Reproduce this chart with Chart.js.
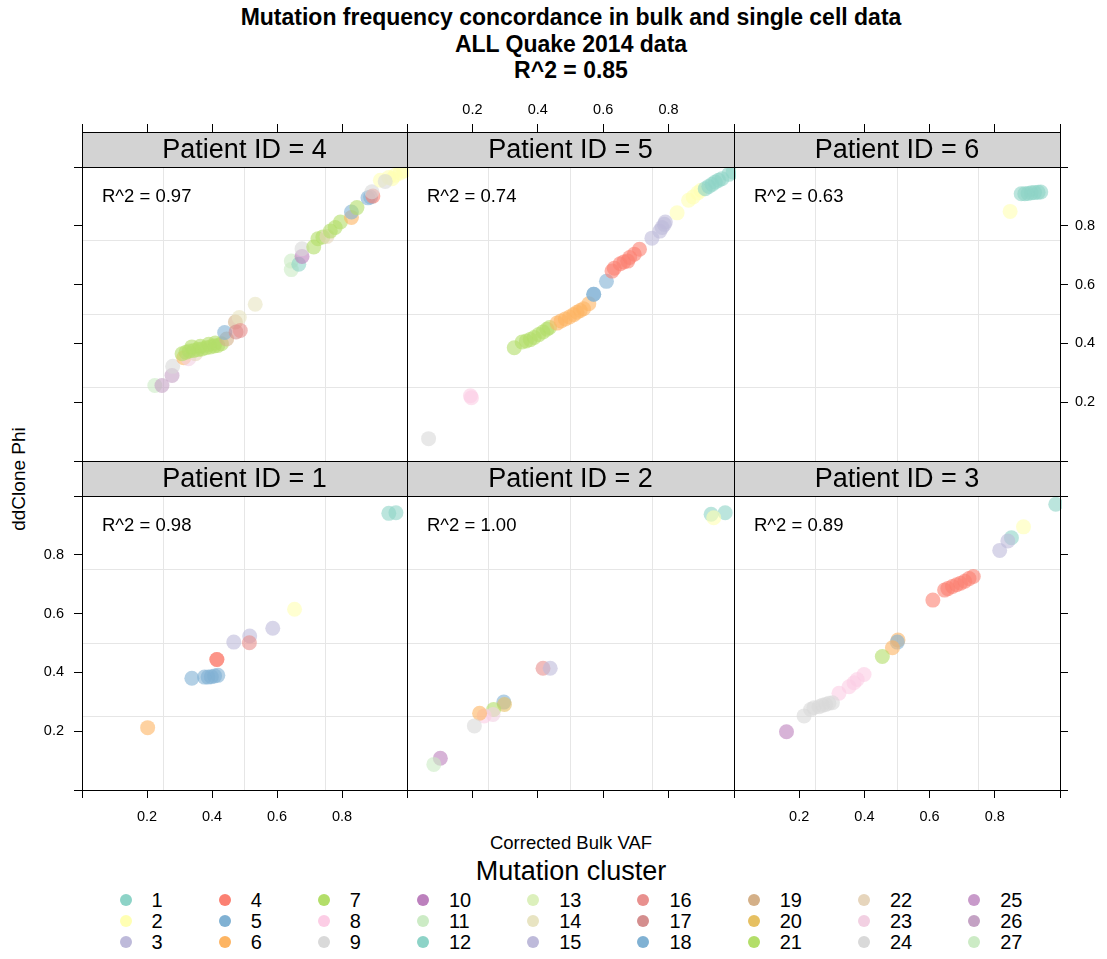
<!DOCTYPE html>
<html>
<head>
<meta charset="utf-8">
<script src="https://cdn.jsdelivr.net/npm/chart.js@4"></script>
<style>
  body { margin: 0; width: 1107px; height: 959px; position: relative; background: #fff; overflow: hidden;
         font-family: "Liberation Sans", Arial, Helvetica, sans-serif; color: #000; }
  canvas { position: absolute; }
  .txt { position: absolute; white-space: nowrap; }
  #title { left: 82px; width: 978px; top: 4px; text-align: center; font-weight: bold; font-size: 23px; line-height: 26.5px; }
  #xlab { left: 82px; width: 978px; top: 832px; text-align: center; font-size: 18.5px; line-height: 22px; }
  #ylab { left: 19px; top: 479px; font-size: 19px; line-height: 22px; transform: translate(-50%, -50%) rotate(-90deg); }
  #legTitle { left: 82px; width: 978px; top: 856px; text-align: center; font-size: 27px; line-height: 31px; }
  #legend { position: absolute; left: 82px; width: 978px; top: 890px; display: flex; justify-content: center; gap: 56px; }
  .legCol { display: flex; flex-direction: column; }
  .legItem { display: flex; align-items: center; height: 20.8px; font-size: 20px; }
  .dot { width: 12px; height: 12px; border-radius: 50%; margin-right: 20px; }
</style>
</head>
<body>
<div id="title" class="txt">Mutation frequency concordance in bulk and single cell data<br>ALL Quake 2014 data<br>R^2 = 0.85</div>
<div id="xlab" class="txt">Corrected Bulk VAF</div>
<div id="ylab" class="txt">ddClone Phi</div>
<div id="legTitle" class="txt">Mutation cluster</div>
<div id="legend"></div>

<script>
const clusterColors = [
  '#8DD3C7', '#FFFFB3', '#BEBADA', '#FB8072', '#80B1D3', '#FDB462', '#B3DE69', '#FCCDE5', '#D9D9D9',
  '#BC80BD', '#CCEBC5', '#8DD3C7', '#DCF0BC', '#E8E4C2', '#BEBADA', '#E8908E', '#D48E8E', '#80B1D3',
  '#D4B088', '#E6C062', '#B3DE69', '#E6D5BC', '#F2D0E2', '#D9D9D9', '#C89ACA', '#C4A2C4', '#CCEBC5'
]
const patientIds = [4, 5, 6, 1, 2, 3]
const rSquared = ['0.97', '0.74', '0.63', '0.98', '1.00', '0.89']
const axisTicks = [0, 0.2, 0.4, 0.6, 0.8, 1]
const gridLines = [0.25, 0.5, 0.75]

// patient 4
const p4Bulk = [0.224, 0.246, 0.277, 0.279, 0.313, 0.328, 0.349, 0.308, 0.320, 0.330, 0.344, 0.357, 0.369, 0.382,
  0.395, 0.407, 0.418, 0.429, 0.338, 0.364, 0.390, 0.410, 0.445, 0.439, 0.472, 0.484, 0.474, 0.487, 0.533, 0.644,
  0.644, 0.667, 0.677, 0.677, 0.713, 0.726, 0.741, 0.754, 0.764, 0.779, 0.795, 0.829, 0.829, 0.846, 0.880, 0.888,
  0.895, 0.892, 0.918, 0.944, 0.954, 0.964, 0.979, 0.990, 0.933]
const p4Phi = [0.257, 0.257, 0.291, 0.322, 0.351, 0.348, 0.365, 0.365, 0.370, 0.374, 0.376, 0.379, 0.381, 0.385,
  0.388, 0.391, 0.393, 0.399, 0.388, 0.390, 0.397, 0.401, 0.415, 0.437, 0.473, 0.488, 0.439, 0.444, 0.533, 0.651,
  0.680, 0.669, 0.696, 0.722, 0.728, 0.756, 0.762, 0.764, 0.782, 0.794, 0.813, 0.828, 0.847, 0.862, 0.895, 0.898,
  0.901, 0.916, 0.955, 0.964, 0.960, 0.972, 0.980, 0.986, 0.951]
const p4Cluster = [11, 26, 26, 9, 6, 23, 22, 7, 7, 7, 7, 7, 21, 7, 21, 7, 7, 7, 7, 21, 7, 7, 19, 5, 19, 14, 17, 16,
  14, 11, 27, 12, 10, 9, 7, 7, 21, 22, 7, 7, 7, 6, 5, 7, 5, 18, 4, 9, 2, 2, 2, 2, 2, 2, 9]

// patient 5
const p5Bulk = [0.066, 0.194, 0.197, 0.328, 0.352, 0.365, 0.377, 0.389, 0.403, 0.416, 0.428, 0.436, 0.459, 0.471,
  0.484, 0.497, 0.510, 0.520, 0.530, 0.540, 0.556, 0.571, 0.571, 0.610, 0.627, 0.634, 0.652, 0.663, 0.675, 0.681,
  0.695, 0.711, 0.749, 0.773, 0.780, 0.787, 0.790, 0.826, 0.861, 0.875, 0.889, 0.899, 0.912, 0.923, 0.933, 0.943,
  0.953, 0.963, 0.984, 0.997]
const p5Phi = [0.076, 0.222, 0.215, 0.385, 0.405, 0.408, 0.413, 0.420, 0.430, 0.439, 0.448, 0.454, 0.469, 0.476,
  0.483, 0.490, 0.498, 0.506, 0.512, 0.518, 0.535, 0.567, 0.567, 0.611, 0.646, 0.656, 0.671, 0.677, 0.680, 0.692,
  0.703, 0.720, 0.758, 0.782, 0.794, 0.805, 0.813, 0.844, 0.887, 0.898, 0.912, 0.921, 0.926, 0.934, 0.941, 0.949,
  0.955, 0.960, 0.975, 0.983]
const p5Cluster = [9, 8, 8, 7, 7, 7, 7, 7, 7, 7, 7, 7, 6, 6, 6, 6, 6, 6, 6, 6, 6, 5, 5, 18, 4, 4, 4, 4, 4, 4, 4, 4,
  3, 3, 3, 3, 3, 2, 2, 2, 2, 2, 1, 1, 1, 1, 1, 1, 1, 1]

// patient 6
const p6Bulk = [0.847, 0.881, 0.892, 0.902, 0.912, 0.922, 0.933, 0.941]
const p6Phi = [0.849, 0.909, 0.909, 0.910, 0.912, 0.913, 0.914, 0.915]
const p6Cluster = [2, 1, 1, 1, 1, 1, 1, 1]

// patient 1
const p1Bulk = [0.944, 0.966, 0.654, 0.587, 0.516, 0.467, 0.515, 0.415, 0.415, 0.338, 0.377, 0.388, 0.398, 0.408, 0.418, 0.202]
const p1Phi = [0.941, 0.943, 0.615, 0.550, 0.524, 0.503, 0.501, 0.444, 0.444, 0.380, 0.384, 0.384, 0.385, 0.388, 0.390, 0.212]
const p1Cluster = [1, 1, 2, 3, 15, 3, 16, 4, 4, 18, 5, 5, 5, 5, 5, 6]

// patient 2
const p2Bulk = [0.930, 0.973, 0.938, 0.416, 0.438, 0.296, 0.298, 0.265, 0.263, 0.236, 0.222, 0.206, 0.102, 0.082]
const p2Phi = [0.938, 0.943, 0.926, 0.414, 0.414, 0.299, 0.291, 0.274, 0.257, 0.252, 0.261, 0.218, 0.108, 0.087]
const p2Cluster = [12, 1, 2, 16, 3, 5, 20, 7, 23, 8, 6, 9, 10, 11]

// patient 3
const p3Bulk = [0.987, 0.888, 0.851, 0.840, 0.815, 0.610, 0.646, 0.656, 0.670, 0.683, 0.695, 0.708, 0.721, 0.734,
  0.503, 0.501, 0.486, 0.455, 0.399, 0.378, 0.368, 0.353, 0.322, 0.302, 0.291, 0.281, 0.271, 0.261, 0.245, 0.235,
  0.215, 0.161]
const p3Phi = [0.972, 0.895, 0.858, 0.847, 0.815, 0.646, 0.680, 0.685, 0.692, 0.698, 0.703, 0.710, 0.719, 0.726,
  0.510, 0.503, 0.484, 0.454, 0.393, 0.376, 0.365, 0.351, 0.329, 0.297, 0.295, 0.291, 0.288, 0.283, 0.280, 0.274,
  0.252, 0.198]
const p3Cluster = [1, 2, 12, 3, 3, 4, 4, 4, 4, 4, 4, 4, 4, 4, 6, 18, 6, 7, 8, 8, 8, 8, 8, 9, 9, 9, 9, 9, 9, 9, 9, 10]

const panelData = [
  [p4Bulk, p4Phi, p4Cluster], [p5Bulk, p5Phi, p5Cluster], [p6Bulk, p6Phi, p6Cluster],
  [p1Bulk, p1Phi, p1Cluster], [p2Bulk, p2Phi, p2Cluster], [p3Bulk, p3Phi, p3Cluster]
]

// panel geometry on the page
const colLeft = [82, 407, 734]
const colRight = [407, 734, 1060]
const rowTop = [167, 496]
const rowBottom = [461, 790]
const margin = { l: 70, r: 70, t: 80, b: 60 }
const stripHeight = 35

const fontFamily = '"Liberation Sans", Arial, Helvetica, sans-serif'
Chart.defaults.font.family = fontFamily
Chart.defaults.color = '#000'

function fade(hex, a) {
  const n = parseInt(hex.slice(1), 16)
  return `rgba(${n >> 16}, ${(n >> 8) & 255}, ${n & 255}, ${a})`
}

function tickAxis(position, size, showTicks, showLabels, tickLength, padding) {
  const horizontal = position === 'top' || position === 'bottom'
  return {
    type: 'linear',
    position: position,
    min: 0,
    max: 1,
    afterBuildTicks: s => { s.ticks = axisTicks.map(v => ({ value: v })) },
    afterFit: s => { if (horizontal) s.height = size; else s.width = size },
    grid: { drawOnChartArea: false, drawTicks: showTicks, tickLength: tickLength, tickColor: '#000', tickWidth: 1 },
    border: { display: false },
    ticks: {
      display: showLabels,
      autoSkip: false,
      maxRotation: 0,
      padding: padding,
      font: { size: 14.5 },
      color: '#000',
      callback: v => (v === 0 || v === 1) ? '' : v.toFixed(1)
    }
  }
}

function gridAxis(position) {
  const horizontal = position === 'top' || position === 'bottom'
  return {
    type: 'linear',
    position: position,
    min: 0,
    max: 1,
    afterBuildTicks: s => { s.ticks = gridLines.map(v => ({ value: v })) },
    afterFit: s => { if (horizontal) s.height = 0; else s.width = 0 },
    grid: { color: '#E6E6E6', lineWidth: 1, drawTicks: false },
    border: { display: false },
    ticks: { display: false }
  }
}

// strip, frame and R^2 note of each panel
const panelFrame = {
  id: 'panelFrame',
  afterDraw(chart, args, opts) {
    const { ctx, chartArea: a } = chart
    const w = a.right - a.left
    ctx.save()
    ctx.fillStyle = '#D3D3D3'
    ctx.fillRect(a.left, a.top - stripHeight, w, stripHeight)
    ctx.strokeStyle = '#000'
    ctx.lineWidth = 1
    ctx.strokeRect(a.left + 0.5, a.top - stripHeight + 0.5, w, stripHeight)
    ctx.strokeRect(a.left + 0.5, a.top + 0.5, w, a.bottom - a.top)
    ctx.fillStyle = '#000'
    ctx.textBaseline = 'middle'
    ctx.textAlign = 'center'
    ctx.font = '27px ' + fontFamily
    ctx.fillText('Patient ID = ' + opts.patient, a.left + w / 2, a.top - stripHeight / 2 + 1.5)
    ctx.textAlign = 'left'
    ctx.font = '18.5px ' + fontFamily
    ctx.fillText('R^2 = ' + opts.r2, a.left + 20, a.top + 30)
    ctx.restore()
  }
}

for (let i = 0; i < 6; i++) {
  const row = Math.floor(i / 3)
  const col = i % 3
  const [bulk, phi, cluster] = panelData[i]

  const canvas = document.createElement('canvas')
  canvas.width = colRight[col] - colLeft[col] + margin.l + margin.r
  canvas.height = rowBottom[row] - rowTop[row] + margin.t + margin.b
  canvas.style.left = (colLeft[col] - margin.l) + 'px'
  canvas.style.top = (rowTop[row] - margin.t) + 'px'
  document.body.appendChild(canvas)

  new Chart(canvas.getContext('2d'), {
    type: 'scatter',
    data: {
      datasets: [{
        data: bulk.map((x, k) => ({ x: x, y: phi[k] })),
        backgroundColor: cluster.map(c => fade(clusterColors[c - 1], 0.6)),
        borderWidth: 0,
        pointRadius: 7.5,
        pointHoverRadius: 7.5,
        clip: { left: 0, top: 0, right: 2, bottom: 0 }
      }]
    },
    options: {
      responsive: false,
      animation: false,
      events: [],
      layout: { padding: 0 },
      scales: {
        x: tickAxis('bottom', margin.b, row === 1, row === 1 && col !== 1, 8, 10),
        x2: tickAxis('top', margin.t, row === 0, row === 0 && col === 1, 8 + stripHeight, 5),
        y: tickAxis('left', margin.l, col === 0, col === 0 && row === 1, 8, 10),
        y2: tickAxis('right', margin.r, col === 2, col === 2 && row === 0, 8, 7),
        gx: gridAxis('bottom'),
        gy: gridAxis('left')
      },
      plugins: {
        legend: { display: false },
        tooltip: { enabled: false },
        panelFrame: { patient: patientIds[i], r2: rSquared[i] }
      }
    },
    plugins: [panelFrame]
  })
}

// legend: three entries per column, filled column by column
const legend = document.getElementById('legend')
for (let c = 0; c < clusterColors.length; c += 3) {
  const colDiv = document.createElement('div')
  colDiv.className = 'legCol'
  for (let k = c; k < c + 3; k++) {
    const item = document.createElement('div')
    item.className = 'legItem'
    const dot = document.createElement('span')
    dot.className = 'dot'
    dot.style.background = clusterColors[k]
    const label = document.createElement('span')
    label.textContent = String(k + 1)
    item.appendChild(dot)
    item.appendChild(label)
    colDiv.appendChild(item)
  }
  legend.appendChild(colDiv)
}
</script>
</body>
</html>
